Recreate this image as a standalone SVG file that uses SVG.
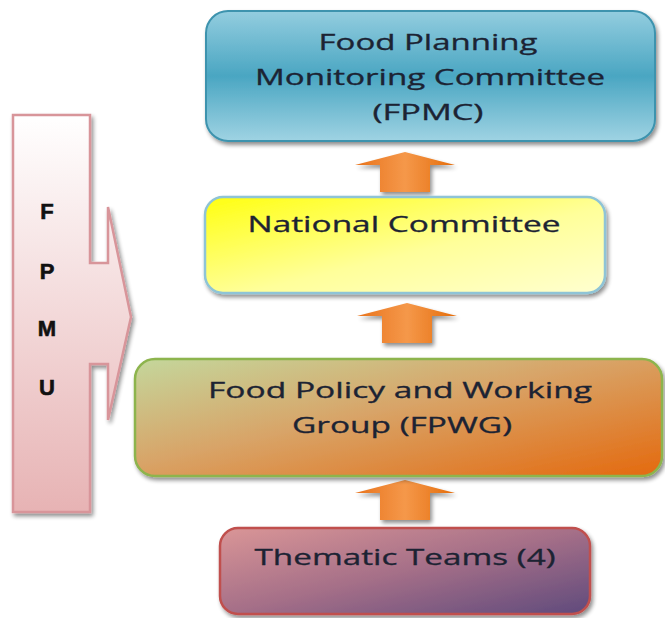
<svg xmlns="http://www.w3.org/2000/svg" width="665" height="618" viewBox="0 0 665 618">
  <defs>
    <linearGradient id="gFpmc" x1="0" y1="0" x2="0" y2="1">
      <stop offset="0" stop-color="#93cddf"/>
      <stop offset="0.5" stop-color="#4aa6c2"/>
      <stop offset="1" stop-color="#9fd3e3"/>
    </linearGradient>
    <linearGradient id="gNat" x1="0" y1="0" x2="1" y2="1">
      <stop offset="0" stop-color="#ffff10"/>
      <stop offset="0.55" stop-color="#ffff9a"/>
      <stop offset="1" stop-color="#ffffd0"/>
    </linearGradient>
    <linearGradient id="gFpwg" x1="0" y1="0" x2="1" y2="1">
      <stop offset="0" stop-color="#c4d79c"/>
      <stop offset="0.45" stop-color="#d8a468"/>
      <stop offset="1" stop-color="#e4690e"/>
    </linearGradient>
    <linearGradient id="gTeam" x1="0" y1="0" x2="1" y2="1">
      <stop offset="0" stop-color="#da9697"/>
      <stop offset="0.5" stop-color="#a56f88"/>
      <stop offset="1" stop-color="#5f4a7c"/>
    </linearGradient>
    <linearGradient id="gFpmu" x1="0" y1="0" x2="0" y2="1">
      <stop offset="0" stop-color="#ffffff"/>
      <stop offset="1" stop-color="#e7b3b4"/>
    </linearGradient>
    <linearGradient id="gArrow" x1="0" y1="0" x2="1" y2="0">
      <stop offset="0" stop-color="#e8731c"/>
      <stop offset="0.5" stop-color="#f5984a"/>
      <stop offset="1" stop-color="#e46c0a"/>
    </linearGradient>
    <filter id="shadow" x="-10%" y="-10%" width="125%" height="130%">
      <feGaussianBlur in="SourceAlpha" stdDeviation="2"/>
      <feOffset dx="2" dy="3" result="b"/>
      <feComponentTransfer><feFuncA type="linear" slope="0.45"/></feComponentTransfer>
      <feMerge><feMergeNode/><feMergeNode in="SourceGraphic"/></feMerge>
    </filter>
    <!-- block arrow pointing up, centred on x=0, tip at y=0 -->
    <path id="upArrow" d="M0,0 L50,13 L25,13 L25,40 L-25,40 L-25,13 L-50,13 Z"/>
  </defs>
  <style>
    .lbl { font-family: "Open Sans", "Liberation Sans", sans-serif; font-size: 21px; fill: #1c2333; text-anchor: middle; stroke: #1c2333; stroke-width: 0.3; }
    .fpmu { font-family: "Liberation Sans", Arial, sans-serif; font-size: 22px; font-weight: bold; fill: #111; text-anchor: middle; stroke: #111; stroke-width: 0.6; }
    .arrow { fill: url(#gArrow); filter: url(#shadow); }
  </style>

  <!-- FPMU side arrow -->
  <g id="fpmu">
    <path d="M13,115 L90,115 L90,263 L108,263 L108,207 L131,317 L108,420 L108,364 L90,364 L90,512 L13,512 Z"
          fill="url(#gFpmu)" stroke="#d8959a" stroke-width="2.5" filter="url(#shadow)"/>
    <text class="fpmu" x="47" y="219">F</text>
    <text class="fpmu" x="47" y="279">P</text>
    <text class="fpmu" x="47" y="336">M</text>
    <text class="fpmu" x="47" y="395">U</text>
  </g>

  <!-- connectors -->
  <g id="connectors">
    <use href="#upArrow" class="arrow" transform="translate(405,152)"/>
    <use href="#upArrow" class="arrow" transform="translate(407,303)"/>
    <use href="#upArrow" class="arrow" transform="translate(405,480)"/>
  </g>

  <g id="fpmc">
    <rect x="206" y="11" width="449" height="130" rx="22" fill="url(#gFpmc)" stroke="#3d93ae" stroke-width="2" filter="url(#shadow)"/>
    <text class="lbl" x="428" y="50" textLength="219" lengthAdjust="spacingAndGlyphs">Food Planning</text>
    <text class="lbl" x="430" y="85" textLength="350" lengthAdjust="spacingAndGlyphs">Monitoring Committee</text>
    <text class="lbl" x="428" y="120" textLength="111" lengthAdjust="spacingAndGlyphs">(FPMC)</text>
  </g>

  <g id="national">
    <rect x="205" y="197" width="400" height="96" rx="18" fill="url(#gNat)" stroke="#8fc4d6" stroke-width="2.5" filter="url(#shadow)"/>
    <text class="lbl" x="404" y="232" textLength="313" lengthAdjust="spacingAndGlyphs">National Committee</text>
  </g>

  <g id="fpwg">
    <rect x="135" y="359" width="527" height="117" rx="20" fill="url(#gFpwg)" stroke="#8db44e" stroke-width="2.5" filter="url(#shadow)"/>
    <text class="lbl" x="400" y="398" textLength="384" lengthAdjust="spacingAndGlyphs">Food Policy and Working</text>
    <text class="lbl" x="402" y="433" textLength="220" lengthAdjust="spacingAndGlyphs">Group (FPWG)</text>
  </g>

  <g id="teams">
    <rect x="220" y="528" width="370" height="86" rx="18" fill="url(#gTeam)" stroke="#c0504d" stroke-width="2.5" filter="url(#shadow)"/>
    <text class="lbl" x="405" y="565" textLength="301" lengthAdjust="spacingAndGlyphs">Thematic Teams (4)</text>
  </g>
</svg>
